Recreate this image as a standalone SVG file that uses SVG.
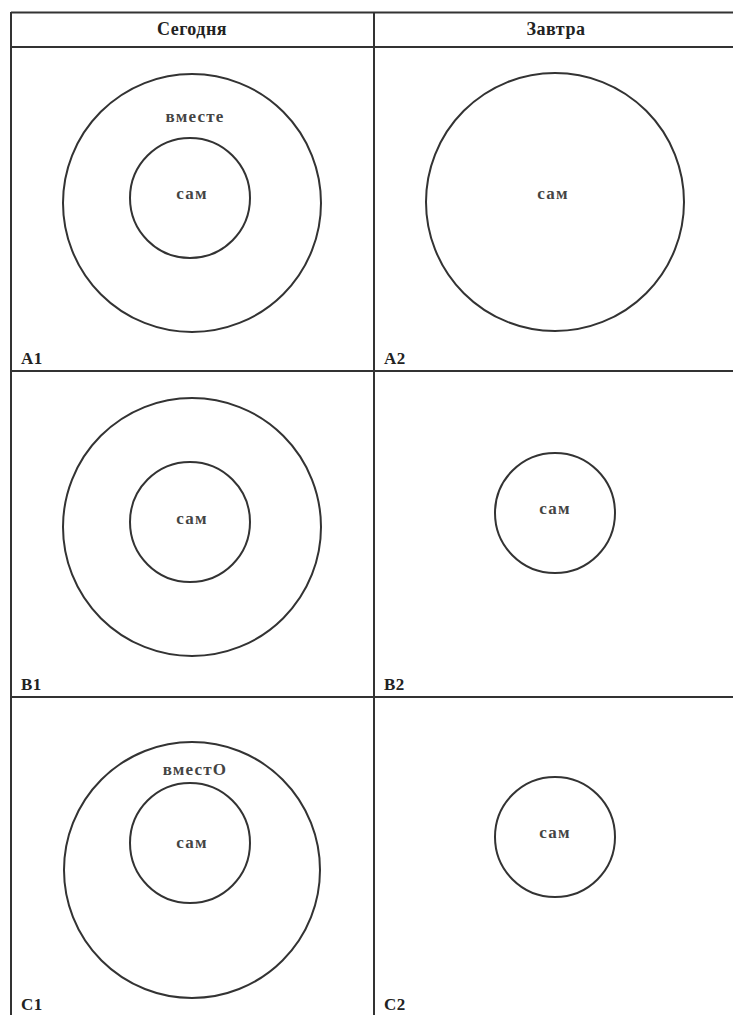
<svg xmlns="http://www.w3.org/2000/svg" width="733" height="1015" viewBox="0 0 733 1015">
<style>
.grid{stroke:#333;stroke-width:2;fill:none}
.c{stroke:#333;stroke-width:2;fill:none}
.h{font-family:"Liberation Serif",serif;font-weight:bold;font-size:18px;fill:#222;text-anchor:middle;letter-spacing:0.5px}
.t{font-family:"Liberation Serif",serif;font-weight:bold;font-size:17px;fill:#444;text-anchor:middle;letter-spacing:1.2px}
.l{font-family:"Liberation Serif",serif;font-weight:bold;font-size:17px;fill:#222;letter-spacing:0.5px}
</style>
<rect width="733" height="1015" fill="#fff"/>
<g id="table" class="grid">
<line x1="11" y1="12.5" x2="733" y2="12.5"/>
<line x1="11" y1="47" x2="733" y2="47"/>
<line x1="11" y1="371" x2="733" y2="371"/>
<line x1="11" y1="697" x2="733" y2="697"/>
<line x1="11" y1="12" x2="11" y2="1015"/>
<line x1="374" y1="12" x2="374" y2="1015"/>
</g>
<g id="header">
<text class="h" x="192" y="35">Сегодня</text>
<text class="h" x="556" y="35">Завтра</text>
</g>
<g id="A1">
<circle class="c" cx="192" cy="203" r="129"/>
<circle class="c" cx="190" cy="198" r="60"/>
<text class="t" x="195" y="122">вместе</text>
<text class="t" x="192" y="199">сам</text>
<text class="l" x="21" y="364">A1</text>
</g>
<g id="A2">
<circle class="c" cx="555" cy="202" r="129"/>
<text class="t" x="553" y="199">сам</text>
<text class="l" x="384" y="364">A2</text>
</g>
<g id="B1">
<circle class="c" cx="192" cy="527" r="129"/>
<circle class="c" cx="190" cy="522" r="60"/>
<text class="t" x="192" y="524">сам</text>
<text class="l" x="21" y="690">B1</text>
</g>
<g id="B2">
<circle class="c" cx="555" cy="513" r="60"/>
<text class="t" x="555" y="514">сам</text>
<text class="l" x="384" y="690">B2</text>
</g>
<g id="C1">
<circle class="c" cx="192" cy="870" r="128"/>
<circle class="c" cx="190" cy="843" r="60"/>
<text class="t" x="195" y="775">вместО</text>
<text class="t" x="192" y="848">сам</text>
<text class="l" x="21" y="1010">C1</text>
</g>
<g id="C2">
<circle class="c" cx="555" cy="837" r="60"/>
<text class="t" x="555" y="838">сам</text>
<text class="l" x="384" y="1010">C2</text>
</g>
</svg>
